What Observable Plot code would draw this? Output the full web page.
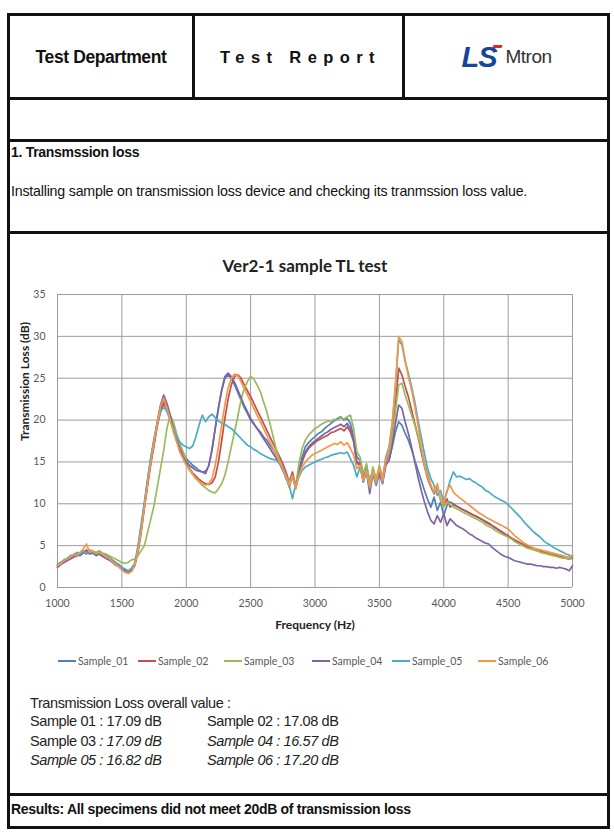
<!DOCTYPE html>
<html>
<head>
<meta charset="utf-8">
<script src="https://cdn.jsdelivr.net/npm/d3@7"></script>
<script src="https://cdn.jsdelivr.net/npm/@observablehq/plot@0.6"></script>
<style>
  html, body { margin: 0; padding: 0; background: #fff; }
  body { width: 614px; height: 834px; position: relative; overflow: hidden; font-family: "Liberation Sans", Arial, sans-serif; color: #111; }
  .abs { position: absolute; }
  .hl { position: absolute; height: 3px; background: #111; }
  .vl { position: absolute; width: 3px; background: #111; }
  .rep { font-size: 13.5px; white-space: nowrap; }
  .legend-item { position: absolute; top: 655px; font-family: Lato, "Open Sans", sans-serif; font-size: 10.5px; color: #595959; display: flex; align-items: center; white-space: nowrap; }
  .legend-item span.sw { display: inline-block; width: 18px; height: 2px; margin-right: 2px; }
  .stat { position: absolute; font-size: 14.5px; color: #222; white-space: nowrap; letter-spacing: -0.4px; }
  .it { font-style: italic; }
</style>
</head>
<body>
<script>
// ---- data ----
const names = ["Sample_01", "Sample_02", "Sample_03", "Sample_04", "Sample_05", "Sample_06"];
const colors = ["#4F81BD", "#C0504D", "#9BBB59", "#8064A2", "#4BACC6", "#F79646"];
const xTicks = [1000, 1500, 2000, 2500, 3000, 3500, 4000, 4500, 5000];
const yTicks = [0, 5, 10, 15, 20, 25, 30, 35];
// frequency grid, Hz (25 Hz steps)
const freqs = d3.range(1000, 5001, 25);

const sample01 = [
  2.6, 2.9, 3.1, 3.3, 3.6, 3.9, 3.7, 4.1, 4.3, 4.0, 4.4, 4.2, 4.1, 4.3, 3.9, 3.8, 3.6, 3.3, 3.0, 2.7,
  2.4, 2.1, 1.9, 2.2, 2.8, 4.5, 7.0, 9.8, 12.5, 15.0, 17.2, 19.5, 21.3, 22.4, 21.6, 20.5, 19.2, 18.0, 17.0, 16.1,
  15.4, 15.0, 14.6, 14.3, 14.0, 13.8, 13.9, 14.5, 16.5, 19.0, 21.5, 23.5, 25.0, 25.4, 25.0, 24.2, 23.3, 22.4, 21.5, 20.8,
  20.0, 19.5, 19.0, 18.6, 18.0, 17.6, 17.0, 16.5, 15.8, 15.0, 14.2, 13.0, 12.4, 13.5, 12.2, 14.0, 15.6, 16.8, 17.3, 17.7,
  18.0, 18.4, 18.6, 19.0, 19.3, 19.6, 19.9, 20.2, 20.4, 20.0, 20.2, 19.6, 18.0, 15.6, 15.2, 13.4, 14.6, 12.6, 14.2, 12.8,
  14.0, 12.8, 14.8, 15.2, 16.8, 18.6, 19.8, 19.4, 18.4, 17.6, 16.5, 15.2, 14.0, 12.8, 11.6, 10.5, 9.6, 10.8, 9.2, 10.2,
  8.6, 9.8, 10.2, 10.0, 9.7, 9.5, 9.3, 9.1, 8.9, 8.7, 8.5, 8.3, 8.1, 7.9, 7.7, 7.4, 7.2, 6.9, 6.7, 6.4,
  6.1, 5.9, 5.6, 5.4, 5.2, 5.0, 4.8, 4.7, 4.5, 4.4, 4.3, 4.2, 4.1, 4.0, 3.9, 3.8, 3.7, 3.6, 3.5, 3.4,
  3.5
];
const sample02 = [
  2.5, 2.8, 3.0, 3.4, 3.5, 3.8, 4.0, 3.9, 4.2, 4.5, 4.1, 4.3, 4.0, 4.2, 3.8, 3.9, 3.5, 3.2, 2.9, 2.6,
  2.3, 2.0, 1.8, 2.0, 2.6, 4.2, 6.6, 9.5, 12.2, 14.8, 17.0, 19.3, 21.0, 22.0, 21.4, 20.2, 18.8, 17.6, 16.5, 15.6,
  14.8, 14.2, 13.7, 13.3, 12.9, 12.6, 12.4, 12.3, 12.5, 13.2, 15.0, 17.5, 20.2, 22.5, 24.2, 25.2, 25.4, 25.0, 24.2, 23.5,
  22.8, 22.0, 21.2, 20.4, 19.6, 18.8, 18.0, 17.2, 16.4, 15.6, 14.8, 13.8, 12.6, 13.8, 12.0, 13.6, 15.0, 16.0, 16.6, 17.0,
  17.3, 17.6, 17.8, 18.0, 18.2, 18.5, 18.6, 18.8, 19.0, 18.7, 19.2, 18.6, 17.4, 15.0, 14.8, 12.8, 14.0, 12.2, 13.8, 12.6,
  14.2, 12.8, 15.0, 16.0, 18.2, 21.8, 26.2, 25.4, 24.0, 22.8, 21.2, 19.6, 18.0, 16.2, 14.5, 13.0, 12.0, 11.2, 12.0, 10.6,
  9.8, 10.6, 9.6, 9.9, 9.7, 9.5, 9.3, 9.1, 8.9, 8.7, 8.5, 8.3, 8.1, 7.8, 7.6, 7.4, 7.1, 6.9, 6.6, 6.4,
  6.2, 5.9, 5.7, 5.5, 5.3, 5.1, 4.9, 4.8, 4.6, 4.5, 4.4, 4.2, 4.1, 4.0, 3.9, 3.8, 3.7, 3.6, 3.5, 3.4,
  3.8
];
const sample03 = [
  2.7, 3.0, 3.2, 3.3, 3.7, 3.8, 4.1, 4.0, 4.4, 4.2, 4.5, 4.3, 4.2, 4.4, 4.1, 4.0, 3.8, 3.6, 3.4, 3.2,
  3.0, 2.9, 3.0, 3.3, 3.4, 3.8, 4.4, 5.0, 6.6, 8.2, 9.8, 12.0, 14.2, 16.4, 19.0, 20.6, 19.8, 18.4, 17.2, 16.2,
  15.2, 14.4, 13.6, 13.0, 12.6, 12.2, 11.9, 11.6, 11.4, 11.3, 11.8, 12.4, 13.4, 15.0, 16.8, 18.6, 20.4, 22.4, 23.8, 24.6,
  25.2, 24.9, 24.2, 23.4, 22.2, 21.0, 19.6, 18.0, 16.4, 15.2, 14.2, 13.4, 12.6, 13.2, 12.0, 14.8, 16.6, 17.6, 18.2, 18.6,
  19.0, 19.2, 19.5, 19.7, 19.9, 19.8, 20.1, 20.0, 20.3, 20.1, 20.4, 20.6, 19.0, 16.2, 15.6, 13.6, 14.8, 12.4, 14.4, 13.0,
  14.6, 13.2, 15.4, 16.0, 18.0, 21.0, 24.2, 24.4, 23.0, 21.8, 20.6, 19.4, 18.0, 16.6, 15.0, 13.6, 12.2, 11.4, 12.0, 10.4,
  9.6, 10.2, 9.9, 9.6, 9.4, 9.2, 9.0, 8.8, 8.6, 8.4, 8.2, 8.0, 7.8, 7.5, 7.3, 7.1, 6.8, 6.6, 6.4, 6.2,
  6.0, 5.8, 5.5, 5.3, 5.1, 4.9, 4.7, 4.6, 4.5, 4.4, 4.2, 4.1, 4.0, 3.9, 3.8, 3.7, 3.6, 3.5, 3.5, 3.4,
  3.6
];
const sample04 = [
  2.4, 2.7, 3.0, 3.2, 3.4, 3.6, 3.9, 3.8, 4.1, 4.3, 4.0, 4.1, 3.8, 4.0, 3.7, 3.5, 3.3, 3.0, 2.7, 2.5,
  2.2, 1.9, 1.7, 2.0, 2.7, 4.6, 7.2, 10.0, 12.8, 15.4, 17.6, 19.8, 21.8, 23.0, 22.0, 20.6, 19.0, 17.6, 16.5, 15.6,
  15.0, 14.6, 14.3, 14.0, 13.9, 13.8, 13.6, 14.6, 16.4, 19.0, 21.4, 23.6, 25.2, 25.6, 25.2, 24.5, 23.6, 22.7, 21.8, 21.0,
  20.2, 19.6, 19.0, 18.4, 17.8, 17.2, 16.6, 16.0, 15.4, 14.8, 14.0, 13.2, 12.0, 13.4, 11.8, 13.6, 15.2, 16.2, 16.8, 17.2,
  17.5, 17.8, 18.1, 18.4, 18.6, 18.9, 19.1, 19.3, 19.5, 19.2, 19.6, 19.0, 17.6, 14.8, 14.6, 12.6, 13.8, 11.2, 13.6, 12.2,
  13.6, 12.4, 14.6, 15.2, 17.0, 19.6, 21.8, 21.4, 19.8, 18.4, 16.8, 15.0, 13.2, 11.6, 10.2, 9.0, 8.0, 7.6, 8.6, 7.8,
  8.8, 7.4, 8.2, 7.8, 7.4, 7.2, 7.0, 6.7, 6.4, 6.2, 5.9, 5.7, 5.5, 5.3, 5.2, 4.8, 4.5, 4.2, 3.9, 3.7,
  3.6, 3.4, 3.2, 3.1, 3.0, 2.9, 2.8, 2.8, 2.7, 2.6, 2.6, 2.5, 2.5, 2.4, 2.4, 2.3, 2.4, 2.3, 2.2, 2.0,
  2.6
];
const sample05 = [
  2.8, 3.0, 3.3, 3.5, 3.8, 3.9, 4.2, 4.0, 4.3, 4.1, 4.4, 4.2, 4.0, 4.3, 3.9, 3.8, 3.6, 3.2, 2.9, 2.8,
  2.4, 2.2, 2.0, 2.3, 2.9, 5.0, 7.6, 10.2, 13.0, 15.6, 17.8, 19.6, 21.0, 21.6, 21.0, 20.0, 19.0, 18.0, 17.4, 17.0,
  16.8, 16.6, 16.9, 18.0, 19.4, 20.6, 19.8, 20.4, 20.7, 20.3, 19.9, 19.6, 19.5, 19.2, 19.0, 18.6, 18.2, 17.8, 17.4, 17.0,
  16.8, 16.5, 16.3, 16.0, 15.8, 15.6, 15.4, 15.3, 15.2, 14.8, 14.4, 13.4, 12.2, 10.6, 12.4, 13.2, 14.0, 14.4, 14.6, 14.8,
  15.0, 15.2, 15.3, 15.5, 15.6, 15.8, 15.9, 16.0, 16.1, 16.0, 16.2, 15.4, 14.6, 13.2, 14.4, 12.6, 14.2, 11.8, 13.8, 12.4,
  14.4, 12.6, 15.6, 16.8, 19.6, 24.0, 29.6, 29.0, 27.0, 25.6, 24.0, 22.2, 20.0, 18.0, 16.0, 14.2, 13.0, 12.2, 11.0, 11.6,
  10.2, 11.4, 12.8, 13.8, 13.2, 13.3, 13.1, 12.9, 13.0, 12.7, 12.5, 12.2, 12.0, 11.6, 11.4, 11.1, 10.8, 10.6, 10.4, 10.2,
  9.9, 9.5, 9.1, 8.7, 8.3, 7.8, 7.4, 7.0, 6.6, 6.3, 6.0, 5.6, 5.3, 5.1, 4.8, 4.6, 4.4, 4.2, 4.0, 3.9,
  3.4
];
const sample06 = [
  2.6, 2.8, 3.2, 3.4, 3.6, 4.0, 3.8, 4.2, 4.6, 5.2, 4.2, 4.4, 4.1, 4.2, 4.0, 3.7, 3.5, 3.1, 2.8, 2.5,
  2.1, 1.8, 1.7, 1.9, 2.6, 4.4, 6.8, 9.6, 12.4, 15.0, 17.4, 19.6, 21.6, 22.6, 21.5, 20.0, 18.6, 17.4, 16.2, 15.4,
  14.6, 14.0, 13.5, 13.0, 12.7, 12.4, 12.2, 12.4, 13.0, 14.6, 16.8, 19.4, 21.8, 23.8, 25.0, 25.5, 25.3, 24.6, 23.8, 23.0,
  22.2, 21.4, 20.6, 19.8, 19.0, 18.2, 17.4, 16.6, 15.8, 15.0, 14.2, 13.2, 12.2, 13.4, 11.8, 13.4, 14.4, 15.0, 15.4, 15.8,
  16.0, 16.2, 16.4, 16.6, 16.8, 17.0, 17.2, 17.1, 17.4, 17.0, 17.3, 16.6, 15.8, 14.2, 14.6, 12.8, 14.0, 12.0, 14.0, 12.6,
  14.4, 12.8, 15.2, 16.6, 19.6, 24.4, 30.0, 29.4, 27.2, 25.2, 23.6, 21.6, 19.4, 17.0, 14.6, 13.2, 12.2, 11.4, 12.4, 10.6,
  10.0, 11.6, 12.2, 11.4, 11.0, 10.7, 10.4, 10.1, 9.8, 9.5, 9.2, 8.9, 8.7, 8.4, 8.2, 8.0, 7.8, 7.6, 7.4, 7.2,
  7.0, 6.6, 6.2, 5.9, 5.6, 5.3, 5.1, 4.9, 4.7, 4.6, 4.5, 4.4, 4.3, 4.2, 4.1, 4.0, 3.9, 3.8, 3.7, 3.6,
  3.9
];
const seriesValues = [sample01, sample02, sample03, sample04, sample05, sample06];

const overallLabels = ["Sample 01", "Sample 02", "Sample 03", "Sample 04", "Sample 05", "Sample 06"];
const overallValues = ["17.09", "17.08", "17.09", "16.57", "16.82", "17.20"];
</script>

<!-- report frame -->
<div class="abs" style="left:7px;top:13px;width:603px;height:816px;border:3px solid #111;box-sizing:border-box;"></div>
<div class="vl" style="left:192px;top:13px;height:86px;"></div>
<div class="vl" style="left:402px;top:13px;height:86px;"></div>
<div class="hl" style="left:7px;top:97px;width:603px;"></div>
<div class="hl" style="left:7px;top:139px;width:603px;"></div>
<div class="hl" style="left:7px;top:231px;width:603px;"></div>
<div class="hl" style="left:7px;top:793px;width:603px;"></div>

<div class="abs" style="left:10px;top:15px;width:182px;height:84px;display:flex;align-items:center;justify-content:center;font-weight:bold;font-size:17.5px;letter-spacing:-0.4px;">Test Department</div>
<div class="abs" style="left:197px;top:15px;width:207px;height:84px;display:flex;align-items:center;justify-content:center;font-weight:bold;font-size:16.5px;letter-spacing:6.4px;word-spacing:0px;white-space:pre;">Test Report</div>
<div class="abs" style="left:405px;top:15px;width:203px;height:84px;display:flex;align-items:center;justify-content:center;">
  <span style="font-family:'Liberation Sans',Arial,sans-serif;font-weight:900;font-style:italic;font-size:29px;color:#16469b;letter-spacing:-1px;position:relative;">LS<span style="position:absolute;right:-6px;top:4px;width:9px;height:3px;background:#e0262f;transform:skewX(-20deg);"></span></span>
  <span style="font-size:19px;color:#333;margin-left:9px;letter-spacing:-0.5px;">Mtron</span>
</div>

<div class="abs rep" style="left:11px;top:144px;font-weight:bold;font-size:14px;letter-spacing:-0.3px;">1. Transmssion loss</div>
<div class="abs rep" style="left:11px;top:183px;font-size:14.2px;letter-spacing:-0.2px;">Installing sample on transmission loss device and checking its tranmssion loss value.</div>

<div class="abs" style="left:0;top:255px;width:610px;text-align:center;font-family:Lato,'Open Sans',sans-serif;font-weight:bold;font-size:17px;color:#222;">Ver2-1 sample TL test</div>

<div id="chart" class="abs" style="left:8px;top:280px;"></div>
<div id="legend"></div>
<div id="stats"></div>

<div class="abs rep" style="left:11px;top:801px;font-weight:bold;font-size:14px;letter-spacing:-0.3px;">Results: All specimens did not meet 20dB of transmission loss</div>

<script>
const data = seriesValues.flatMap((vals, s) => vals.map((v, i) => ({f: freqs[i], v, name: names[s]})));

const chart = Plot.plot({
  width: 590,
  height: 360,
  marginLeft: 49,
  marginRight: 26,
  marginTop: 14,
  marginBottom: 53,
  style: {fontFamily: "Lato, 'Open Sans', sans-serif", fontSize: "10.5px", color: "#595959", background: "transparent"},
  x: {domain: [1000, 5000]},
  y: {domain: [0, 35]},
  color: {domain: names, range: colors},
  marks: [
    Plot.gridX(xTicks, {stroke: "#9c9c9c", strokeOpacity: 1, strokeWidth: 1}),
    Plot.gridY(yTicks, {stroke: "#9c9c9c", strokeOpacity: 1, strokeWidth: 1}),
    Plot.lineY(data, {x: "f", y: "v", z: "name", stroke: "name", strokeWidth: 1.7, strokeLinejoin: "round"}),
    Plot.axisX({ticks: xTicks, tickSize: 0, tickPadding: 12, tickFormat: d => String(d), label: null}),
    Plot.axisY({ticks: yTicks, tickSize: 0, tickPadding: 12, label: null}),
    Plot.text(["Frequency (Hz)"], {frameAnchor: "bottom", dy: 41, fontWeight: "bold", fontSize: 12, fill: "#222"}),
    Plot.text(["Transmission Loss (dB)"], {frameAnchor: "left", dx: -32, rotate: -90, fontWeight: "bold", fontSize: 12, fill: "#222"})
  ]
});
document.getElementById("chart").appendChild(chart);

// legend
const legendX = [58, 138, 224, 312, 392, 478];
const legendEl = document.getElementById("legend");
names.forEach((n, i) => {
  const d = document.createElement("div");
  d.className = "legend-item";
  d.style.left = legendX[i] + "px";
  d.innerHTML = `<span class="sw" style="background:${colors[i]}"></span>${n}`;
  legendEl.appendChild(d);
});

// overall values
const statsEl = document.getElementById("stats");
const head = document.createElement("div");
head.className = "stat";
head.style.left = "30px"; head.style.top = "695px";
head.textContent = "Transmission Loss overall value :";
statsEl.appendChild(head);
const italicStyle = [
  {label: false, value: false}, {label: false, value: false},
  {label: false, value: true}, {label: true, value: true},
  {label: true, value: true}, {label: true, value: true}
];
overallLabels.forEach((lab, i) => {
  const d = document.createElement("div");
  d.className = "stat";
  d.style.left = (i % 2 === 0 ? 30 : 207) + "px";
  d.style.top = (713 + Math.floor(i / 2) * 19.5) + "px";
  const st = italicStyle[i];
  d.innerHTML = `<span class="${st.label ? "it" : ""}">${lab}</span><span class="${st.value ? "it" : ""}"> : ${overallValues[i]} dB</span>`;
  statsEl.appendChild(d);
});
</script>
</body>
</html>
